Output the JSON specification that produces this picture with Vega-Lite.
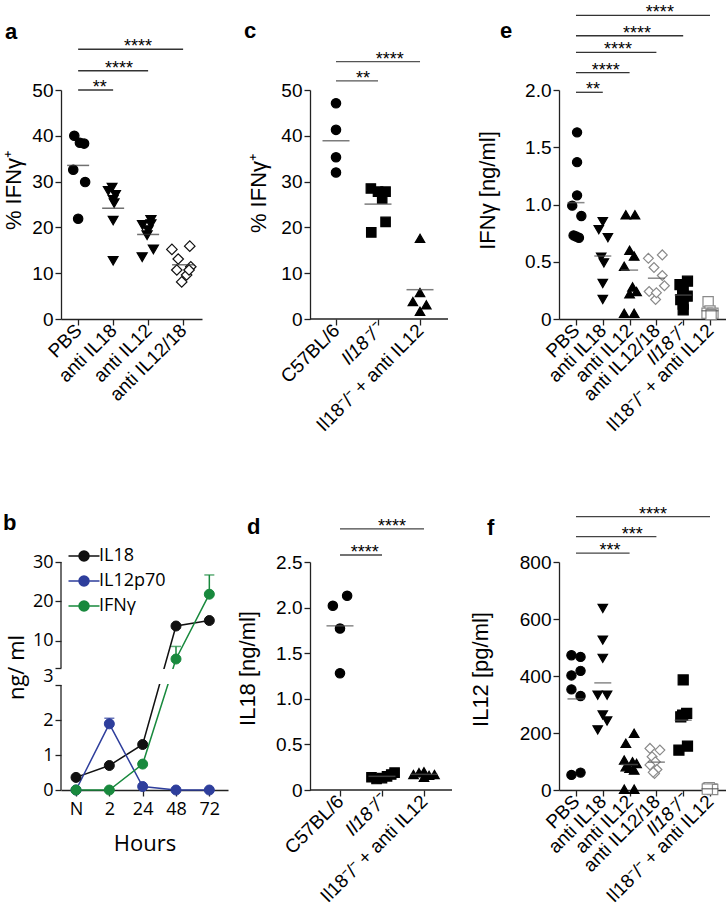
{
"$schema":"https://vega.github.io/schema/vega-lite/v6.json",
"background":"white",
"padding":{"left":2,"top":4,"right":0,"bottom":0},
"columns":3,
"bounds":"flush",
"align":"all",
"spacing":{"row":243,"column":78},
"resolve":{"scale":{"x":"independent","y":"independent","shape":"independent","fill":"independent","stroke":"independent","color":"independent","size":"independent"}},
"datasets":{
"a":[{"g":1,"x":0.89,"v":40.0},{"g":1,"x":1.05,"v":38.5},{"g":1,"x":1.17,"v":38.3},{"g":1,"x":0.86,"v":32.6},{"g":1,"x":1.2,"v":29.9},{"g":1,"x":1.0,"v":21.9},
{"g":2,"x":1.97,"v":28.7},{"g":2,"x":1.86,"v":28.0},{"g":2,"x":2.07,"v":27.1},{"g":2,"x":2.0,"v":26.0},{"g":2,"x":2.03,"v":25.3},{"g":2,"x":2.0,"v":21.5},{"g":2,"x":2.0,"v":12.7},
{"g":3,"x":2.84,"v":20.5},{"g":3,"x":3.08,"v":21.6},{"g":3,"x":3.0,"v":19.4},{"g":3,"x":2.97,"v":18.3},{"g":3,"x":2.83,"v":13.5},{"g":3,"x":3.15,"v":15.2},{"g":3,"x":3.08,"v":20.7},
{"g":4,"x":3.68,"v":15.2},{"g":4,"x":4.19,"v":15.9},{"g":4,"x":3.86,"v":13.1},{"g":4,"x":3.82,"v":10.7},{"g":4,"x":3.96,"v":8.1},{"g":4,"x":4.1,"v":9.6},{"g":4,"x":4.22,"v":11.4},{"g":4,"x":4.17,"v":10.7}],
"sa":[{"from":1,"to":2,"y":50,"label":"**","mid":1.62},{"from":1,"to":3,"y":54.2,"label":"****","mid":2.17},{"from":1,"to":4,"y":58.9,"label":"****","mid":2.71}],
"c":[{"g":1,"x":1.0,"v":47.1},{"g":1,"x":1.0,"v":41.3},{"g":1,"x":1.0,"v":35.3},{"g":1,"x":1.0,"v":32.0},
{"g":2,"x":1.83,"v":28.5},{"g":2,"x":2.0,"v":27.8},{"g":2,"x":2.18,"v":27.8},{"g":2,"x":2.1,"v":26.3},{"g":2,"x":1.84,"v":18.9},{"g":2,"x":2.18,"v":21.2},
{"g":3,"x":3.0,"v":17.6},{"g":3,"x":3.0,"v":5.8},{"g":3,"x":2.83,"v":3.8},{"g":3,"x":3.15,"v":3.1},{"g":3,"x":3.0,"v":1.7}],
"sc":[{"from":1,"to":2,"y":52.0,"label":"**","mid":1.64},{"from":1,"to":3,"y":56.2,"label":"****","mid":2.28}],
"e":[{"g":1,"x":1.04,"v":1.63},{"g":1,"x":1.04,"v":1.37},{"g":1,"x":1.04,"v":1.08},{"g":1,"x":0.86,"v":0.99},{"g":1,"x":1.2,"v":0.90},{"g":1,"x":0.91,"v":0.73},{"g":1,"x":1.11,"v":0.71},{"g":1,"x":1.01,"v":0.72},
{"g":2,"x":2.0,"v":0.85},{"g":2,"x":1.85,"v":0.78},{"g":2,"x":2.19,"v":0.71},{"g":2,"x":1.94,"v":0.54},{"g":2,"x":2.04,"v":0.49},{"g":2,"x":2.0,"v":0.31},{"g":2,"x":2.0,"v":0.17},
{"g":3,"x":2.86,"v":0.91},{"g":3,"x":3.2,"v":0.91},{"g":3,"x":3.0,"v":0.60},{"g":3,"x":3.17,"v":0.55},{"g":3,"x":2.8,"v":0.46},{"g":3,"x":3.11,"v":0.28},{"g":3,"x":3.0,"v":0.22},{"g":3,"x":3.26,"v":0.24},{"g":3,"x":2.8,"v":0.05},{"g":3,"x":3.17,"v":0.05},
{"g":4,"x":3.7,"v":0.53},{"g":4,"x":4.22,"v":0.56},{"g":4,"x":3.91,"v":0.45},{"g":4,"x":4.22,"v":0.38},{"g":4,"x":4.3,"v":0.29},{"g":4,"x":3.73,"v":0.24},{"g":4,"x":3.97,"v":0.17},{"g":4,"x":4.0,"v":0.23},
{"g":5,"x":5.16,"v":0.33},{"g":5,"x":4.88,"v":0.30},{"g":5,"x":5.0,"v":0.25},{"g":5,"x":4.98,"v":0.21},{"g":5,"x":5.15,"v":0.20},{"g":5,"x":4.91,"v":0.17},{"g":5,"x":5.0,"v":0.13},{"g":5,"x":5.0,"v":0.08},
{"g":6,"x":5.93,"v":0.15},{"g":6,"x":6.0,"v":0.07},{"g":6,"x":5.89,"v":0.05},{"g":6,"x":6.11,"v":0.05},{"g":6,"x":6.04,"v":0.04}],
"se":[{"from":1,"to":2,"y":1.98,"label":"**","mid":1.63},{"from":1,"to":3,"y":2.151,"label":"****","mid":2.11},{"from":1,"to":4,"y":2.329,"label":"****","mid":2.57},{"from":1,"to":5,"y":2.474,"label":"****","mid":3.28},{"from":1,"to":6,"y":2.652,"label":"****","mid":4.13}],
"b":[{"series":"IL18","t":1,"time":"N","v":0.36},{"series":"IL18","t":2,"time":"2","v":0.70},{"series":"IL18","t":3,"time":"24","v":1.30},{"series":"IL18","t":4,"time":"48","v":13.7},{"series":"IL18","t":5,"time":"72","v":15.1},
{"series":"IL12p70","t":1,"time":"N","v":0},{"series":"IL12p70","t":2,"time":"2","v":1.89,"hi":2.05},{"series":"IL12p70","t":3,"time":"24","v":0.10},{"series":"IL12p70","t":4,"time":"48","v":0},{"series":"IL12p70","t":5,"time":"72","v":0},
{"series":"IFNγ","t":1,"time":"N","v":0},{"series":"IFNγ","t":2,"time":"2","v":0},{"series":"IFNγ","t":3,"time":"24","v":0.74},{"series":"IFNγ","t":4,"time":"48","v":5.3,"hi":8.5},{"series":"IFNγ","t":5,"time":"72","v":21.8,"hi":26.7}],
"d":[{"g":1,"x":0.83,"v":2.02},{"g":1,"x":1.17,"v":2.13},{"g":1,"x":1.0,"v":1.77},{"g":1,"x":1.0,"v":1.28},
{"g":2,"x":1.75,"v":0.14},{"g":2,"x":1.87,"v":0.12},{"g":2,"x":2.0,"v":0.13},{"g":2,"x":2.12,"v":0.15},{"g":2,"x":2.22,"v":0.17},{"g":2,"x":2.3,"v":0.19},
{"g":3,"x":2.75,"v":0.17},{"g":3,"x":2.88,"v":0.19},{"g":3,"x":3.0,"v":0.20},{"g":3,"x":3.12,"v":0.16},{"g":3,"x":3.25,"v":0.17},{"g":3,"x":3.0,"v":0.14}],
"sd":[{"from":1,"to":2,"y":2.577,"label":"****","mid":1.59},{"from":1,"to":3,"y":2.863,"label":"****","mid":2.24}],
"f":[{"g":1,"x":0.83,"v":473},{"g":1,"x":1.17,"v":467},{"g":1,"x":1.17,"v":418},{"g":1,"x":0.83,"v":402},{"g":1,"x":0.83,"v":353},{"g":1,"x":1.17,"v":330},{"g":1,"x":0.83,"v":53},{"g":1,"x":1.17,"v":61},
{"g":2,"x":2.0,"v":637},{"g":2,"x":2.0,"v":526},{"g":2,"x":2.0,"v":462},{"g":2,"x":1.81,"v":333},{"g":2,"x":2.16,"v":333},{"g":2,"x":2.0,"v":263},{"g":2,"x":2.16,"v":242},{"g":2,"x":1.81,"v":211},
{"g":3,"x":3.17,"v":199},{"g":3,"x":2.86,"v":164},{"g":3,"x":2.8,"v":105},{"g":3,"x":3.11,"v":99},{"g":3,"x":3.26,"v":93},{"g":3,"x":2.86,"v":82},{"g":3,"x":3.0,"v":76},{"g":3,"x":3.17,"v":70},{"g":3,"x":2.8,"v":3},{"g":3,"x":3.17,"v":3},
{"g":4,"x":3.76,"v":146},{"g":4,"x":4.13,"v":140},{"g":4,"x":3.84,"v":117},{"g":4,"x":3.96,"v":99},{"g":4,"x":3.76,"v":88},{"g":4,"x":4.02,"v":72},{"g":4,"x":3.93,"v":58},{"g":4,"x":3.88,"v":62},
{"g":5,"x":5.0,"v":386},{"g":5,"x":4.98,"v":263},{"g":5,"x":5.13,"v":269},{"g":5,"x":4.91,"v":257},{"g":5,"x":4.84,"v":140},{"g":5,"x":5.16,"v":154},
{"g":6,"x":5.93,"v":5},{"g":6,"x":6.07,"v":4},{"g":6,"x":5.97,"v":8},{"g":6,"x":6.1,"v":2},{"g":6,"x":5.9,"v":3}],
"sf":[{"from":1,"to":3,"y":831,"label":"***","mid":2.27},{"from":1,"to":4,"y":889,"label":"***","mid":3.1},{"from":1,"to":6,"y":959,"label":"****","mid":3.87}]
},
"concat":[
{"width":141,"height":229,
 "title":{"text":"a","dx":-56,"dy":10},
 "layer":[
  {"data":{"name":"a"},"mark":{"type":"point","filled":true,"opacity":1,"strokeWidth":1.2},
   "encoding":{
    "x":{"field":"x","type":"quantitative","scale":{"domain":[0.51,4.54],"nice":false,"zero":false},"axis":{"values":[1,2,3,4],"tickCount":20,"labelOverlap":false,"labelExpr":"['PBS','anti IL18','anti IL12','anti IL12/18'][datum.value-1]","labelAngle":-45,"labelAlign":"right","labelBaseline":"middle","title":null}},
    "y":{"field":"v","type":"quantitative","scale":{"domain":[0,50],"nice":false,"zero":false},"axis":{"values":[0,10,20,30,40,50],"tickCount":20,"labelOverlap":false,"title":"% IFNγ⁺","titleX":-35.5,"titleY":100}},
    "shape":{"field":"g","type":"nominal","scale":{"domain":[1,2,3,4],"range":["circle","triangle-down","triangle-down","diamond"]},"legend":null},
    "size":{"field":"g","type":"nominal","scale":{"domain":[1,2,3,4],"range":[88,110,110,80]},"legend":null},
    "fill":{"field":"g","type":"nominal","scale":{"domain":[1,2,3,4],"range":["#000000","#000000","#000000","#ffffff"]},"legend":null},
    "stroke":{"field":"g","type":"nominal","scale":{"domain":[1,2,3,4],"range":["#000000","#000000","#000000","#111111"]},"legend":null}}},
  {"data":{"name":"a"},"transform":[{"aggregate":[{"op":"mean","field":"v","as":"v"}],"groupby":["g"]}],
   "mark":{"type":"tick","orient":"horizontal","size":22,"thickness":1.5,"color":"#333333"},
   "encoding":{"x":{"field":"g","type":"quantitative","scale":{"domain":[0.51,4.54],"nice":false,"zero":false}},"y":{"field":"v","type":"quantitative","scale":{"domain":[0,50],"nice":false,"zero":false}}}},
  {"data":{"name":"sa"},"mark":{"type":"rule","color":"#333333","strokeWidth":1.3},
   "encoding":{"x":{"field":"from","type":"quantitative","scale":{"domain":[0.51,4.54],"nice":false,"zero":false}},"x2":{"field":"to"},"y":{"field":"y","type":"quantitative","scale":{"domain":[0,50],"nice":false,"zero":false}}}},
  {"data":{"name":"sa"},"mark":{"type":"text","fontSize":18,"baseline":"alphabetic","dy":3,"align":"center"},
   "encoding":{"x":{"field":"mid","type":"quantitative","scale":{"domain":[0.51,4.54],"nice":false,"zero":false}},"y":{"field":"y","type":"quantitative","scale":{"domain":[0,50],"nice":false,"zero":false}},"text":{"field":"label"}}}
 ]},
{"width":171,"height":229,
 "title":{"text":"c","dx":-66,"dy":-4},
 "layer":[
  {"data":{"name":"c"},"mark":{"type":"point","filled":true,"opacity":1,"strokeWidth":1.2},
   "encoding":{
    "x":{"field":"x","type":"quantitative","scale":{"domain":[0.381,4.452],"nice":false,"zero":false},"axis":{"values":[1,2,3],"tickCount":20,"labelOverlap":false,"domain":false,"labelExpr":"['C57BL/6','Il18⁻/⁻','Il18⁻/⁻ + anti IL12'][datum.value-1]","labelFontStyle":{"condition":{"test":"datum.value == 2","value":"italic"},"value":"normal"},"labelAngle":-45,"labelAlign":"right","labelBaseline":"middle","title":null}},
    "y":{"field":"v","type":"quantitative","scale":{"domain":[0,50],"nice":false,"zero":false},"axis":{"values":[0,10,20,30,40,50],"tickCount":20,"labelOverlap":false,"title":"% IFNγ⁺","titleX":-40,"titleY":103}},
    "shape":{"field":"g","type":"nominal","scale":{"domain":[1,2,3],"range":["circle","square","triangle-up"]},"legend":null},
    "size":{"field":"g","type":"nominal","scale":{"domain":[1,2,3],"range":[88,90,110]},"legend":null},
    "fill":{"field":"g","type":"nominal","scale":{"domain":[1,2,3],"range":["#000000","#000000","#000000"]},"legend":null},
    "stroke":{"field":"g","type":"nominal","scale":{"domain":[1,2,3],"range":["#000000","#000000","#000000"]},"legend":null}}},
  {"data":{"name":"c"},"transform":[{"aggregate":[{"op":"mean","field":"v","as":"v"}],"groupby":["g"]}],
   "mark":{"type":"tick","orient":"horizontal","size":27,"thickness":1.5,"color":"#444444"},
   "encoding":{"x":{"field":"g","type":"quantitative","scale":{"domain":[0.381,4.452],"nice":false,"zero":false}},"y":{"field":"v","type":"quantitative","scale":{"domain":[0,50],"nice":false,"zero":false}}}},
  {"data":{"values":[{}]},"mark":{"type":"rule","color":"#222222","strokeWidth":1.3},
   "encoding":{"x":{"datum":0.381,"type":"quantitative","scale":{"domain":[0.381,4.452],"nice":false,"zero":false}},"x2":{"datum":3.667},"y":{"datum":0,"type":"quantitative","scale":{"domain":[0,50],"nice":false,"zero":false}}}},
  {"data":{"name":"sc"},"mark":{"type":"rule","color":"#555555","strokeWidth":1.3},
   "encoding":{"x":{"field":"from","type":"quantitative","scale":{"domain":[0.381,4.452],"nice":false,"zero":false}},"x2":{"field":"to"},"y":{"field":"y","type":"quantitative","scale":{"domain":[0,50],"nice":false,"zero":false}}}},
  {"data":{"name":"sc"},"mark":{"type":"text","fontSize":18,"baseline":"alphabetic","dy":3,"align":"center"},
   "encoding":{"x":{"field":"mid","type":"quantitative","scale":{"domain":[0.381,4.452],"nice":false,"zero":false}},"y":{"field":"y","type":"quantitative","scale":{"domain":[0,50],"nice":false,"zero":false}},"text":{"field":"label"}}}
 ]},
{"width":170,"height":229,
 "title":{"text":"e","dx":-59,"dy":43},
 "layer":[
  {"data":{"name":"e"},"mark":{"type":"point","filled":true,"opacity":1,"strokeWidth":1.2},
   "encoding":{
    "x":{"field":"x","type":"quantitative","scale":{"domain":[0.366,6.709],"nice":false,"zero":false},"axis":{"values":[1,2,3,4,5,6],"tickCount":20,"labelOverlap":false,"labelExpr":"['PBS','anti IL18','anti IL12','anti IL12/18','Il18⁻/⁻','Il18⁻/⁻ + anti IL12'][datum.value-1]","labelFontStyle":{"condition":{"test":"datum.value == 5","value":"italic"},"value":"normal"},"labelAngle":-45,"labelAlign":"right","labelBaseline":"middle","title":null}},
    "y":{"field":"v","type":"quantitative","scale":{"domain":[0,2],"nice":false,"zero":false},"axis":{"values":[0,0.5,1,1.5,2],"tickCount":20,"labelOverlap":false,"labelExpr":"datum.value == 0 ? '0' : format(datum.value, '.1f')","title":"IFNγ [ng/ml]","titleX":-60,"titleY":100}},
    "shape":{"field":"g","type":"nominal","scale":{"domain":[1,2,3,4,5,6],"range":["circle","triangle-down","triangle-up","diamond","square","square"]},"legend":null},
    "size":{"field":"g","type":"nominal","scale":{"domain":[1,2,3,4,5,6],"range":[85,105,105,80,85,75]},"legend":null},
    "fill":{"field":"g","type":"nominal","scale":{"domain":[1,2,3,4,5,6],"range":["#000000","#000000","#000000","#ffffff","#000000","#ffffff"]},"legend":null},
    "stroke":{"field":"g","type":"nominal","scale":{"domain":[1,2,3,4,5,6],"range":["#000000","#000000","#000000","#8a8a8a","#000000","#8a8a8a"]},"legend":null}}},
  {"data":{"name":"e"},"transform":[{"aggregate":[{"op":"mean","field":"v","as":"v"}],"groupby":["g"]}],
   "mark":{"type":"tick","orient":"horizontal","size":17,"thickness":1.5,"color":"#555555"},
   "encoding":{"x":{"field":"g","type":"quantitative","scale":{"domain":[0.366,6.709],"nice":false,"zero":false}},"y":{"field":"v","type":"quantitative","scale":{"domain":[0,2],"nice":false,"zero":false}}}},
  {"data":{"name":"se"},"mark":{"type":"rule","color":"#333333","strokeWidth":1.3},
   "encoding":{"x":{"field":"from","type":"quantitative","scale":{"domain":[0.366,6.709],"nice":false,"zero":false}},"x2":{"field":"to"},"y":{"field":"y","type":"quantitative","scale":{"domain":[0,2],"nice":false,"zero":false}}}},
  {"data":{"name":"se"},"mark":{"type":"text","fontSize":18,"baseline":"alphabetic","dy":3,"align":"center"},
   "encoding":{"x":{"field":"mid","type":"quantitative","scale":{"domain":[0.366,6.709],"nice":false,"zero":false}},"y":{"field":"y","type":"quantitative","scale":{"domain":[0,2],"nice":false,"zero":false}},"text":{"field":"label"}}}
 ]},
{"width":167,"height":228,
 "title":{"text":"b","dx":-58,"dy":-8},
 "layer":[
  {"data":{"name":"b"},"mark":{"type":"line","strokeWidth":1.5},
   "encoding":{
    "x":{"field":"t","type":"quantitative","scale":{"domain":[0.55,5.56],"nice":false,"zero":false},"axis":{"values":[1,2,3,4,5],"tickCount":20,"labelOverlap":false,"labelExpr":"['N','2','24','48','72'][datum.value-1]","labelAngle":0,"labelAlign":"center","labelBaseline":"top","labelFont":"Open Sans","labelFontSize":18,"labelPadding":4,"title":"Hours","titleFont":"Open Sans","titleFontSize":22,"titlePadding":15}},
    "y":{"field":"v","type":"quantitative","scale":{"domain":[0,3,3.01,30],"range":[228,123,106,0],"nice":false,"zero":false},"axis":{"values":[0,1,2,3,3.01,10,20,30],"tickCount":20,"labelOverlap":false,"domain":false,"labelExpr":"datum.value == 3.01 ? '' : format(datum.value, 'd')","labelBaseline":{"condition":{"test":"datum.value == 3","value":"bottom"},"value":"middle"},"labelFont":"Open Sans","labelFontSize":18,"title":"ng/ ml","titleFont":"Open Sans","titleFontSize":22,"titleX":-33,"titleY":105}},
    "stroke":{"field":"series","type":"nominal","scale":{"domain":["IL18","IL12p70","IFNγ"],"range":["#111111","#2e3e9c","#18893d"]},
      "legend":{"title":null,"orient":"none","legendX":14,"legendY":-15,"labelFont":"Open Sans","labelFontSize":18,"labelColor":"#000000","symbolType":"M-3.1,0L3.1,0M1,0A1,1,0,1,1,-1,0A1,1,0,1,1,1,0Z","symbolSize":100,"symbolStrokeWidth":1.5,"symbolOpacity":1,"labelOffset":6,"rowPadding":7,"padding":0}}}},
  {"data":{"values":[{}]},"mark":{"type":"rect","color":"#ffffff"},
   "encoding":{"x":{"datum":0.7,"type":"quantitative","scale":{"domain":[0.55,5.56],"nice":false,"zero":false}},"x2":{"datum":5.5},"y":{"datum":3.0006,"type":"quantitative","scale":{"domain":[0,3,3.01,30],"range":[228,123,106,0],"nice":false,"zero":false}},"y2":{"datum":3.0094}}},
  {"data":{"values":[{}]},"mark":{"type":"rule","color":"#222222","strokeWidth":1.3},
   "encoding":{"x":{"datum":0.55,"type":"quantitative","scale":{"domain":[0.55,5.56],"nice":false,"zero":false}},"y":{"datum":0,"type":"quantitative","scale":{"domain":[0,3,3.01,30],"range":[228,123,106,0],"nice":false,"zero":false}},"y2":{"datum":3}}},
  {"data":{"values":[{}]},"mark":{"type":"rule","color":"#222222","strokeWidth":1.3},
   "encoding":{"x":{"datum":0.55,"type":"quantitative","scale":{"domain":[0.55,5.56],"nice":false,"zero":false}},"y":{"datum":3.01,"type":"quantitative","scale":{"domain":[0,3,3.01,30],"range":[228,123,106,0],"nice":false,"zero":false}},"y2":{"datum":30}}},
  {"data":{"name":"b"},"transform":[{"filter":"datum.hi != null"}],"mark":{"type":"rule","strokeWidth":1.5},
   "encoding":{"x":{"field":"t","type":"quantitative","scale":{"domain":[0.55,5.56],"nice":false,"zero":false}},"y":{"field":"v","type":"quantitative","scale":{"domain":[0,3,3.01,30],"range":[228,123,106,0],"nice":false,"zero":false}},"y2":{"field":"hi"},
    "stroke":{"field":"series","type":"nominal","scale":{"domain":["IL18","IL12p70","IFNγ"],"range":["#111111","#2e3e9c","#18893d"]},
      "legend":{"title":null,"orient":"none","legendX":14,"legendY":-15,"labelFont":"Open Sans","labelFontSize":18,"labelColor":"#000000","symbolType":"M-3.1,0L3.1,0M1,0A1,1,0,1,1,-1,0A1,1,0,1,1,1,0Z","symbolSize":100,"symbolStrokeWidth":1.5,"symbolOpacity":1,"labelOffset":6,"rowPadding":7,"padding":0}}}},
  {"data":{"name":"b"},"transform":[{"filter":"datum.hi != null"}],"mark":{"type":"tick","orient":"horizontal","size":10,"thickness":1.5},
   "encoding":{"x":{"field":"t","type":"quantitative","scale":{"domain":[0.55,5.56],"nice":false,"zero":false}},"y":{"field":"hi","type":"quantitative","scale":{"domain":[0,3,3.01,30],"range":[228,123,106,0],"nice":false,"zero":false}},
    "color":{"field":"series","type":"nominal","scale":{"domain":["IL18","IL12p70","IFNγ"],"range":["#111111","#2e3e9c","#18893d"]},"legend":null}}},
  {"data":{"name":"b"},"mark":{"type":"point","filled":true,"opacity":1,"size":100,"strokeWidth":1},
   "encoding":{"x":{"field":"t","type":"quantitative","scale":{"domain":[0.55,5.56],"nice":false,"zero":false}},"y":{"field":"v","type":"quantitative","scale":{"domain":[0,3,3.01,30],"range":[228,123,106,0],"nice":false,"zero":false}},
    "fill":{"field":"series","type":"nominal","scale":{"domain":["IL18","IL12p70","IFNγ"],"range":["#111111","#2e3e9c","#18893d"]},
      "legend":{"title":null,"orient":"none","legendX":14,"legendY":-15,"labelFont":"Open Sans","labelFontSize":18,"labelColor":"#000000","symbolType":"M-3.1,0L3.1,0M1,0A1,1,0,1,1,-1,0A1,1,0,1,1,1,0Z","symbolSize":100,"symbolStrokeWidth":1.5,"symbolOpacity":1,"labelOffset":6,"rowPadding":7,"padding":0}},
    "stroke":{"field":"series","type":"nominal","scale":{"domain":["IL18","IL12p70","IFNγ"],"range":["#111111","#2e3e9c","#18893d"]},
      "legend":{"title":null,"orient":"none","legendX":14,"legendY":-15,"labelFont":"Open Sans","labelFontSize":18,"labelColor":"#000000","symbolType":"M-3.1,0L3.1,0M1,0A1,1,0,1,1,-1,0A1,1,0,1,1,1,0Z","symbolSize":100,"symbolStrokeWidth":1.5,"symbolOpacity":1,"labelOffset":6,"rowPadding":7,"padding":0}}}}
 ]},
{"width":171,"height":228,
 "title":{"text":"d","dx":-63,"dy":25},
 "layer":[
  {"data":{"name":"d"},"mark":{"type":"point","filled":true,"opacity":1,"strokeWidth":1.2},
   "encoding":{
    "x":{"field":"x","type":"quantitative","scale":{"domain":[0.286,4.357],"nice":false,"zero":false},"axis":{"values":[1,2,3],"tickCount":20,"labelOverlap":false,"domain":false,"labelExpr":"['C57BL/6','Il18⁻/⁻','Il18⁻/⁻ + anti IL12'][datum.value-1]","labelFontStyle":{"condition":{"test":"datum.value == 2","value":"italic"},"value":"normal"},"labelAngle":-45,"labelAlign":"right","labelBaseline":"middle","title":null}},
    "y":{"field":"v","type":"quantitative","scale":{"domain":[0,2.5],"nice":false,"zero":false},"axis":{"values":[0,0.5,1,1.5,2,2.5],"tickCount":20,"labelOverlap":false,"labelExpr":"datum.value == 0 ? '0' : format(datum.value, '.1f')","title":"IL18 [ng/ml]","titleX":-51,"titleY":106}},
    "shape":{"field":"g","type":"nominal","scale":{"domain":[1,2,3],"range":["circle","square","triangle-up"]},"legend":null},
    "size":{"field":"g","type":"nominal","scale":{"domain":[1,2,3],"range":[88,90,110]},"legend":null},
    "fill":{"field":"g","type":"nominal","scale":{"domain":[1,2,3],"range":["#000000","#000000","#000000"]},"legend":null},
    "stroke":{"field":"g","type":"nominal","scale":{"domain":[1,2,3],"range":["#000000","#000000","#000000"]},"legend":null}}},
  {"data":{"name":"d"},"transform":[{"aggregate":[{"op":"mean","field":"v","as":"v"}],"groupby":["g"]}],
   "mark":{"type":"tick","orient":"horizontal","size":27,"thickness":1.5,"color":"#555555"},
   "encoding":{"x":{"field":"g","type":"quantitative","scale":{"domain":[0.286,4.357],"nice":false,"zero":false}},"y":{"field":"v","type":"quantitative","scale":{"domain":[0,2.5],"nice":false,"zero":false}}}},
  {"data":{"values":[{}]},"mark":{"type":"rule","color":"#222222","strokeWidth":1.3},
   "encoding":{"x":{"datum":0.286,"type":"quantitative","scale":{"domain":[0.286,4.357],"nice":false,"zero":false}},"x2":{"datum":3.667},"y":{"datum":0,"type":"quantitative","scale":{"domain":[0,2.5],"nice":false,"zero":false}}}},
  {"data":{"name":"sd"},"mark":{"type":"rule","color":"#444444","strokeWidth":1.3},
   "encoding":{"x":{"field":"from","type":"quantitative","scale":{"domain":[0.286,4.357],"nice":false,"zero":false}},"x2":{"field":"to"},"y":{"field":"y","type":"quantitative","scale":{"domain":[0,2.5],"nice":false,"zero":false}}}},
  {"data":{"name":"sd"},"mark":{"type":"text","fontSize":18,"baseline":"alphabetic","dy":3,"align":"center"},
   "encoding":{"x":{"field":"mid","type":"quantitative","scale":{"domain":[0.286,4.357],"nice":false,"zero":false}},"y":{"field":"y","type":"quantitative","scale":{"domain":[0,2.5],"nice":false,"zero":false}},"text":{"field":"label"}}}
 ]},
{"width":170,"height":228,
 "title":{"text":"f","dx":-72,"dy":38},
 "layer":[
  {"data":{"name":"f"},"mark":{"type":"point","filled":true,"opacity":1,"strokeWidth":1.2},
   "encoding":{
    "x":{"field":"x","type":"quantitative","scale":{"domain":[0.366,6.709],"nice":false,"zero":false},"axis":{"values":[1,2,3,4,5,6],"tickCount":20,"labelOverlap":false,"labelExpr":"['PBS','anti IL18','anti IL12','anti IL12/18','Il18⁻/⁻','Il18⁻/⁻ + anti IL12'][datum.value-1]","labelFontStyle":{"condition":{"test":"datum.value == 5","value":"italic"},"value":"normal"},"labelAngle":-45,"labelAlign":"right","labelBaseline":"middle","title":null}},
    "y":{"field":"v","type":"quantitative","scale":{"domain":[0,800],"nice":false,"zero":false},"axis":{"values":[0,200,400,600,800],"tickCount":20,"labelOverlap":false,"title":"IL12 [pg/ml]","titleX":-67,"titleY":107}},
    "shape":{"field":"g","type":"nominal","scale":{"domain":[1,2,3,4,5,6],"range":["circle","triangle-down","triangle-up","diamond","square","square"]},"legend":null},
    "size":{"field":"g","type":"nominal","scale":{"domain":[1,2,3,4,5,6],"range":[85,105,105,80,85,75]},"legend":null},
    "fill":{"field":"g","type":"nominal","scale":{"domain":[1,2,3,4,5,6],"range":["#000000","#000000","#000000","#ffffff","#000000","#ffffff"]},"legend":null},
    "stroke":{"field":"g","type":"nominal","scale":{"domain":[1,2,3,4,5,6],"range":["#000000","#000000","#000000","#8a8a8a","#000000","#8a8a8a"]},"legend":null}}},
  {"data":{"name":"f"},"transform":[{"aggregate":[{"op":"mean","field":"v","as":"v"}],"groupby":["g"]}],
   "mark":{"type":"tick","orient":"horizontal","size":17,"thickness":1.5,"color":"#555555"},
   "encoding":{"x":{"field":"g","type":"quantitative","scale":{"domain":[0.366,6.709],"nice":false,"zero":false}},"y":{"field":"v","type":"quantitative","scale":{"domain":[0,800],"nice":false,"zero":false}}}},
  {"data":{"name":"sf"},"mark":{"type":"rule","color":"#444444","strokeWidth":1.3},
   "encoding":{"x":{"field":"from","type":"quantitative","scale":{"domain":[0.366,6.709],"nice":false,"zero":false}},"x2":{"field":"to"},"y":{"field":"y","type":"quantitative","scale":{"domain":[0,800],"nice":false,"zero":false}}}},
  {"data":{"name":"sf"},"mark":{"type":"text","fontSize":18,"baseline":"alphabetic","dy":3,"align":"center"},
   "encoding":{"x":{"field":"mid","type":"quantitative","scale":{"domain":[0.366,6.709],"nice":false,"zero":false}},"y":{"field":"y","type":"quantitative","scale":{"domain":[0,800],"nice":false,"zero":false}},"text":{"field":"label"}}}
 ]}
],
"config":{
 "view":{"stroke":null},
 "font":"Liberation Sans",
 "text":{"font":"Liberation Sans","color":"#000000"},
 "title":{"font":"Liberation Sans","fontSize":22,"fontWeight":"bold","anchor":"start","frame":"group","baseline":"alphabetic","color":"#000000","offset":0},
 "axis":{"domainColor":"#222222","tickColor":"#222222","domainWidth":1.3,"tickWidth":1.3,"tickSize":6,"labelFont":"Liberation Sans","labelFontSize":19,"labelColor":"#000000","titleFont":"Liberation Sans","titleFontSize":22,"titleFontWeight":"normal","titleColor":"#000000","grid":false,"labelPadding":2,"labelFlush":false,"labelBound":false,"labelOverlap":false}
}
}
